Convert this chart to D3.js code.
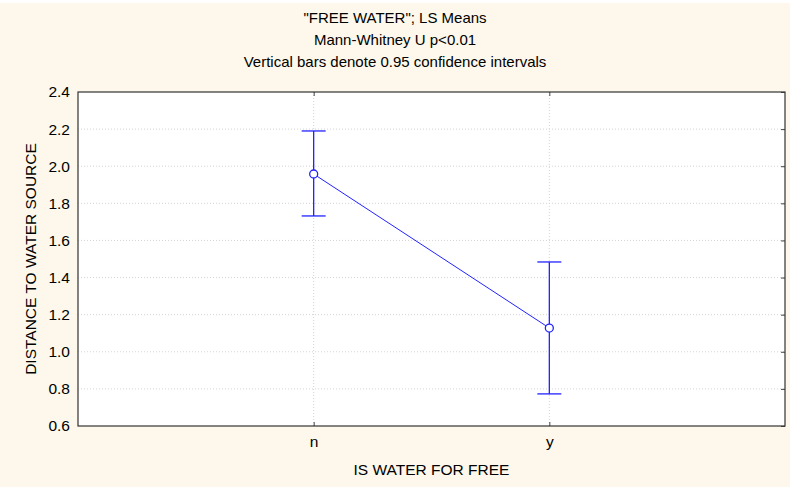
<!DOCTYPE html>
<html>
<head>
<meta charset="utf-8">
<script src="https://cdn.jsdelivr.net/npm/d3@7"></script>
<style>
  body { margin: 0; background: #fff; }
  svg { display: block; }
  text { font-family: "Liberation Sans", Arial, sans-serif; fill: #000; }
</style>
</head>
<body>
<svg id="chart" width="790" height="487"></svg>
<script>
// data
var categories = ["n", "y"];
var means = [1.958, 1.128];
var upper = [2.19, 1.484];
var lower = [1.732, 0.773];
var yTicks = [0.6, 0.8, 1.0, 1.2, 1.4, 1.6, 1.8, 2.0, 2.2, 2.4];
var titleLines = ["\"FREE WATER\"; LS Means", "Mann-Whitney U p<0.01", "Vertical bars denote 0.95 confidence intervals"];

var W = 790, H = 487;
var margin = {top: 92, right: 5, bottom: 61, left: 78};
var svg = d3.select("#chart");

svg.append("rect")
    .attr("x", 0).attr("y", 3)
    .attr("width", W).attr("height", H - 3)
    .attr("fill", "#fdf8eb");

var x = d3.scalePoint()
    .domain(categories)
    .range([margin.left, W - margin.right])
    .padding(1);

var y = d3.scaleLinear()
    .domain([0.6, 2.4])
    .range([H - margin.bottom, margin.top]);

var plot = svg.append("g").attr("id", "plot");

plot.append("rect")
    .attr("x", margin.left).attr("y", margin.top)
    .attr("width", W - margin.right - margin.left)
    .attr("height", H - margin.bottom - margin.top)
    .attr("fill", "#fff");

// grid
var grid = plot.append("g").attr("id", "grid");
grid.selectAll("line.h")
    .data(yTicks.slice(1, -1))
    .enter().append("line")
    .attr("x1", margin.left).attr("x2", W - margin.right)
    .attr("y1", function(d) { return y(d); })
    .attr("y2", function(d) { return y(d); })
    .attr("stroke", "#d4d4d4")
    .attr("stroke-dasharray", "1,2");
grid.selectAll("line.v")
    .data(categories)
    .enter().append("line")
    .attr("x1", function(d) { return x(d); })
    .attr("x2", function(d) { return x(d); })
    .attr("y1", margin.top).attr("y2", H - margin.bottom)
    .attr("stroke", "#d4d4d4")
    .attr("stroke-dasharray", "1,2");

// axes
var yAxis = d3.axisLeft(y).tickValues(yTicks).tickFormat(d3.format(".1f")).tickSize(0).tickPadding(8);
var yAxisR = d3.axisLeft(y).tickValues(yTicks).tickFormat("").tickSize(4);
var xAxis = d3.axisBottom(x).tickSize(0).tickPadding(10);
var xTicksB = d3.axisTop(x).tickFormat("").tickSize(4);
var xTicksT = d3.axisBottom(x).tickFormat("").tickSize(4);

var gy = plot.append("g")
    .attr("transform", "translate(" + margin.left + ",0)")
    .call(yAxis);
gy.select(".domain").remove();
gy.selectAll("text").style("font-size", "15.5px");

var gyr = plot.append("g")
    .attr("transform", "translate(" + (W - margin.right) + ",0)")
    .call(yAxisR);
gyr.select(".domain").remove();
gyr.selectAll("line").attr("stroke", "#444");

var gx = plot.append("g")
    .attr("transform", "translate(0," + (H - margin.bottom) + ")")
    .call(xAxis);
gx.select(".domain").remove();
gx.selectAll("text").style("font-size", "15.5px");

plot.append("g")
    .attr("transform", "translate(0," + (H - margin.bottom) + ")")
    .call(xTicksB)
    .call(function(g) { g.select(".domain").remove(); g.selectAll("line").attr("stroke", "#444"); });
plot.append("g")
    .attr("transform", "translate(0," + margin.top + ")")
    .call(xTicksT)
    .call(function(g) { g.select(".domain").remove(); g.selectAll("line").attr("stroke", "#444"); });

// frame
plot.append("rect")
    .attr("x", margin.left).attr("y", margin.top)
    .attr("width", W - margin.right - margin.left)
    .attr("height", H - margin.bottom - margin.top)
    .attr("fill", "none")
    .attr("stroke", "#333")
    .attr("stroke-width", 1.2);

// series
var pts = categories.map(function(c, i) {
    return {cat: c, mean: means[i], hi: upper[i], lo: lower[i]};
});
var blue = "#2222ff";
var series = svg.append("g").attr("id", "series");

series.selectAll("line.err")
    .data(pts)
    .enter().append("line")
    .attr("x1", function(d) { return x(d.cat); })
    .attr("x2", function(d) { return x(d.cat); })
    .attr("y1", function(d) { return y(d.hi); })
    .attr("y2", function(d) { return y(d.lo); })
    .attr("stroke", blue).attr("stroke-width", 1.3);
["hi", "lo"].forEach(function(k) {
    series.selectAll("line.cap" + k)
        .data(pts)
        .enter().append("line")
        .attr("x1", function(d) { return x(d.cat) - 12; })
        .attr("x2", function(d) { return x(d.cat) + 12; })
        .attr("y1", function(d) { return y(d[k]); })
        .attr("y2", function(d) { return y(d[k]); })
        .attr("stroke", blue).attr("stroke-width", 1.3);
});

series.append("path")
    .datum(pts)
    .attr("fill", "none")
    .attr("stroke", blue)
    .attr("stroke-width", 1)
    .attr("d", d3.line().x(function(d) { return x(d.cat); }).y(function(d) { return y(d.mean); }));

series.selectAll("circle")
    .data(pts)
    .enter().append("circle")
    .attr("cx", function(d) { return x(d.cat); })
    .attr("cy", function(d) { return y(d.mean); })
    .attr("r", 4)
    .attr("fill", "#fff")
    .attr("stroke", blue).attr("stroke-width", 1.3);

// titles
svg.append("g").attr("id", "title")
    .selectAll("text")
    .data(titleLines)
    .enter().append("text")
    .attr("x", W / 2)
    .attr("y", function(d, i) { return 23 + i * 22; })
    .attr("text-anchor", "middle")
    .style("font-size", "15px")
    .text(function(d) { return d; });

svg.append("text")
    .attr("x", (margin.left + W - margin.right) / 2)
    .attr("y", 475)
    .attr("text-anchor", "middle")
    .style("font-size", "15.5px")
    .text("IS WATER FOR FREE");

svg.append("text")
    .attr("transform", "translate(36," + ((margin.top + H - margin.bottom) / 2) + ") rotate(-90)")
    .attr("text-anchor", "middle")
    .style("font-size", "15.5px")
    .text("DISTANCE TO WATER SOURCE");
</script>
</body>
</html>
